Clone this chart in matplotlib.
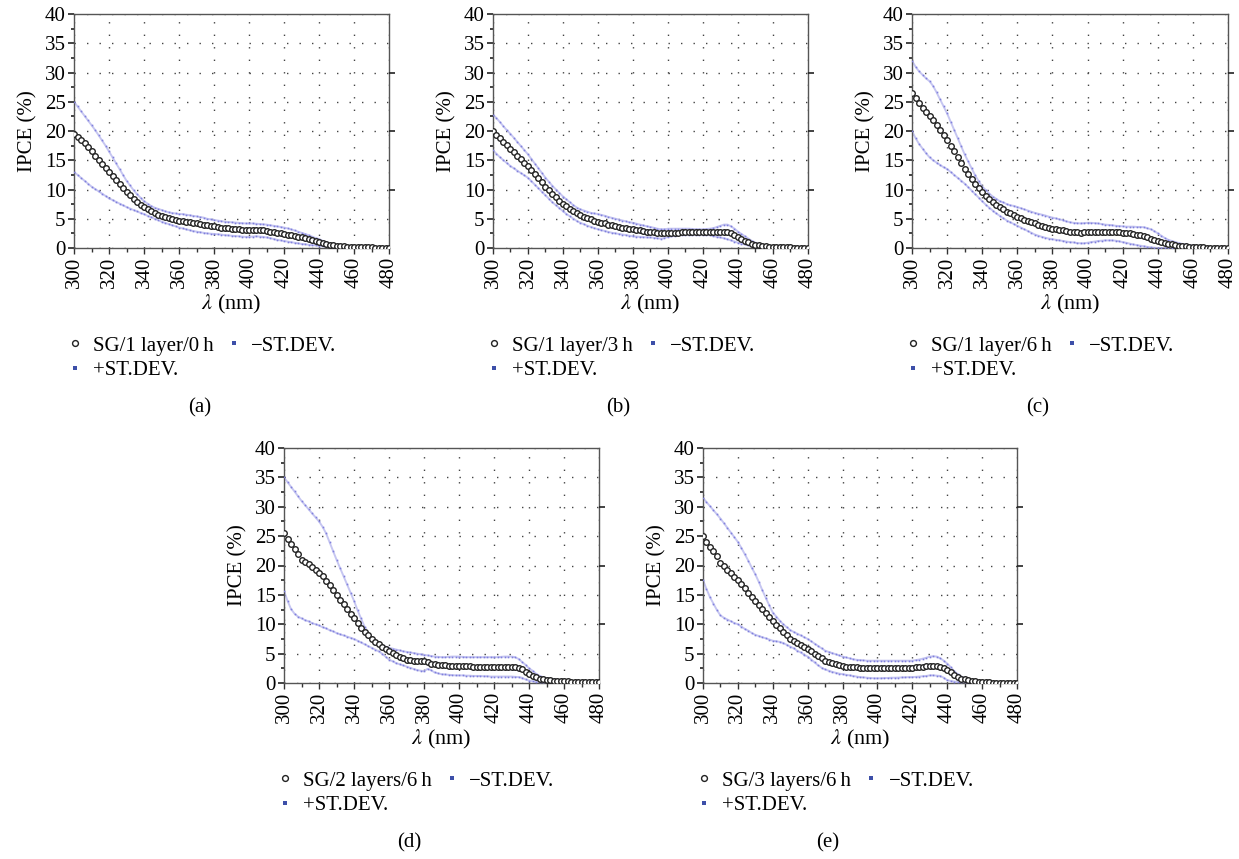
import numpy as np
import matplotlib
matplotlib.use("Agg")
import matplotlib.pyplot as plt
from matplotlib.lines import Line2D
from matplotlib.ticker import MultipleLocator

plt.rcParams['font.family'] = ['Liberation Serif', 'DejaVu Serif']
plt.rcParams['mathtext.fontset'] = 'stix'

# wavelength grid (nm), every 2 nm from 300 to 480
wavelength = list(range(300, 481, 2))

# ---------------- (a) SG/1 layer/0 h ----------------
a_mean = [19.5, 19.0, 18.5, 18.0, 17.2, 16.5, 15.8, 15.1, 14.4, 13.7,
          13.0, 12.3, 11.6, 10.9, 10.2, 9.5, 9.0, 8.4, 7.9, 7.4,
          7.0, 6.6, 6.3, 6.0, 5.7, 5.5, 5.3, 5.1, 4.9, 4.8,
          4.7, 4.6, 4.5, 4.4, 4.3, 4.2, 4.1, 4.0, 3.9, 3.8,
          3.7, 3.6, 3.5, 3.4, 3.35, 3.3, 3.25, 3.2, 3.15, 3.1,
          3.1, 3.1, 3.1, 3.05, 3.0, 2.9, 2.8, 2.7, 2.6, 2.5,
          2.4, 2.3, 2.2, 2.05, 1.9, 1.8, 1.65, 1.5, 1.35, 1.2,
          1.0, 0.85, 0.7, 0.55, 0.45, 0.4, 0.35, 0.3, 0.25, 0.22,
          0.2, 0.18, 0.15, 0.12, 0.1, 0.1, 0.08, 0.07, 0.06, 0.05, 0.05]
a_plus = [25.0, 24.2, 23.4, 22.6, 21.8, 21.0, 20.2, 19.3, 18.4, 17.5,
          16.5, 15.5, 14.5, 13.5, 12.5, 11.5, 10.7, 9.9, 9.2, 8.6,
          8.0, 7.6, 7.2, 6.9, 6.7, 6.5, 6.3, 6.1, 6.0, 5.9,
          5.8, 5.8, 5.7, 5.6, 5.5, 5.4, 5.3, 5.2, 5.0, 4.9,
          4.8, 4.7, 4.6, 4.5, 4.45, 4.4, 4.35, 4.3, 4.25, 4.2,
          4.2, 4.2, 4.15, 4.1, 4.05, 4.0, 3.9, 3.8, 3.7, 3.6,
          3.5, 3.35, 3.2, 3.0, 2.8, 2.6, 2.4, 2.2, 1.95, 1.7,
          1.5, 1.25, 1.0, 0.8, 0.6, 0.5, 0.42, 0.35, 0.3, 0.27,
          0.25, 0.2, 0.17, 0.14, 0.12, 0.1, 0.09, 0.08, 0.07, 0.06, 0.05]
a_minus = [13.0, 12.5, 12.0, 11.5, 11.0, 10.5, 10.1, 9.7, 9.3, 8.9,
           8.5, 8.2, 7.9, 7.6, 7.3, 7.0, 6.75, 6.5, 6.25, 6.0,
           5.8, 5.5, 5.3, 5.0, 4.8, 4.5, 4.3, 4.1, 3.9, 3.7,
           3.5, 3.35, 3.2, 3.05, 2.9, 2.8, 2.7, 2.6, 2.5, 2.45,
           2.4, 2.35, 2.3, 2.2, 2.15, 2.1, 2.05, 2.0, 1.95, 1.9,
           1.9, 1.95, 2.0, 1.95, 1.9, 1.8, 1.7, 1.55, 1.4, 1.3,
           1.2, 1.1, 1.0, 0.9, 0.8, 0.7, 0.65, 0.55, 0.5, 0.45,
           0.4, 0.35, 0.3, 0.25, 0.22, 0.2, 0.18, 0.15, 0.12, 0.11,
           0.1, 0.09, 0.08, 0.07, 0.06, 0.06, 0.05, 0.05, 0.05, 0.05, 0.05]

# ---------------- (b) SG/1 layer/3 h ----------------
b_mean = [20.0, 19.4, 18.8, 18.2, 17.6, 17.0, 16.4, 15.8, 15.2, 14.6,
          14.0, 13.3, 12.6, 11.9, 11.2, 10.5, 9.9, 9.3, 8.7, 8.1,
          7.5, 7.1, 6.7, 6.3, 5.9, 5.6, 5.35, 5.1, 4.9, 4.7,
          4.5, 4.35, 4.2, 4.0, 3.85, 3.7, 3.6, 3.5, 3.4, 3.3,
          3.2, 3.1, 3.0, 2.9, 2.8, 2.7, 2.65, 2.6, 2.55, 2.5,
          2.5, 2.55, 2.6, 2.62, 2.65, 2.7, 2.72, 2.75, 2.77, 2.8,
          2.8, 2.8, 2.8, 2.8, 2.8, 2.8, 2.8, 2.7, 2.5, 2.2,
          1.8, 1.5, 1.2, 0.95, 0.75, 0.55, 0.45, 0.38, 0.3, 0.25,
          0.2, 0.17, 0.15, 0.13, 0.11, 0.1, 0.08, 0.07, 0.06, 0.05, 0.05]
b_plus = [22.8, 22.2, 21.5, 20.8, 20.1, 19.5, 18.8, 18.1, 17.4, 16.7,
          16.0, 15.2, 14.4, 13.6, 12.8, 12.0, 11.3, 10.6, 10.0, 9.4,
          8.8, 8.3, 7.8, 7.3, 6.9, 6.6, 6.4, 6.2, 6.0, 5.9,
          5.8, 5.65, 5.5, 5.3, 5.15, 5.0, 4.85, 4.7, 4.55, 4.4,
          4.3, 4.15, 4.0, 3.85, 3.7, 3.6, 3.45, 3.3, 3.2, 3.2,
          3.3, 3.3, 3.3, 3.3, 3.3, 3.3, 3.3, 3.25, 3.2, 3.2,
          3.2, 3.25, 3.3, 3.4, 3.6, 3.8, 4.0, 4.0, 3.7, 3.3,
          2.8, 2.4, 2.0, 1.6, 1.2, 0.9, 0.7, 0.55, 0.45, 0.35,
          0.3, 0.25, 0.2, 0.17, 0.13, 0.1, 0.09, 0.08, 0.06, 0.05, 0.05]
b_minus = [16.7, 16.1, 15.5, 15.0, 14.5, 14.0, 13.6, 13.2, 12.8, 12.4,
           12.0, 11.4, 10.8, 10.2, 9.6, 9.0, 8.4, 7.8, 7.3, 6.8,
           6.3, 5.8, 5.4, 5.0, 4.6, 4.3, 4.05, 3.8, 3.6, 3.4,
           3.2, 3.05, 2.9, 2.75, 2.6, 2.5, 2.4, 2.3, 2.2, 2.1,
           2.0, 1.95, 1.9, 1.85, 1.8, 1.8, 1.75, 1.65, 1.6, 1.7,
           1.9, 2.0, 2.1, 2.2, 2.25, 2.3, 2.3, 2.3, 2.3, 2.3,
           2.3, 2.25, 2.2, 2.05, 1.9, 1.8, 1.65, 1.5, 1.3, 1.1,
           0.9, 0.75, 0.6, 0.45, 0.35, 0.3, 0.25, 0.2, 0.18, 0.16,
           0.15, 0.13, 0.11, 0.1, 0.08, 0.07, 0.06, 0.06, 0.05, 0.05, 0.05]

# ---------------- (c) SG/1 layer/6 h ----------------
c_mean = [26.5, 25.6, 24.8, 24.0, 23.2, 22.5, 21.8, 21.0, 20.2, 19.4,
          18.5, 17.5, 16.5, 15.5, 14.5, 13.5, 12.6, 11.8, 11.0, 10.2,
          9.5, 8.9, 8.4, 7.9, 7.4, 7.0, 6.6, 6.2, 5.9, 5.6,
          5.3, 5.1, 4.8, 4.6, 4.4, 4.2, 4.0, 3.8, 3.6, 3.45,
          3.3, 3.2, 3.1, 3.0, 2.9, 2.8, 2.7, 2.65, 2.6, 2.65,
          2.7, 2.72, 2.75, 2.78, 2.8, 2.8, 2.8, 2.75, 2.7, 2.65,
          2.6, 2.55, 2.5, 2.4, 2.3, 2.2, 2.0, 1.8, 1.6, 1.4,
          1.2, 1.05, 0.9, 0.75, 0.6, 0.5, 0.42, 0.35, 0.3, 0.25,
          0.2, 0.16, 0.12, 0.09, 0.07, 0.05, 0.04, 0.03, 0.03, 0.02, 0.02]
c_plus = [32.0, 31.0, 30.2, 29.6, 29.0, 28.5, 27.7, 26.6, 25.4, 24.2,
          23.0, 21.6, 20.2, 18.8, 17.4, 16.0, 14.8, 13.6, 12.4, 11.4,
          10.5, 9.9, 9.3, 8.8, 8.4, 8.0, 7.8, 7.5, 7.3, 7.2,
          7.0, 6.8, 6.6, 6.4, 6.2, 6.0, 5.85, 5.7, 5.55, 5.35,
          5.2, 5.05, 4.9, 4.75, 4.55, 4.4, 4.3, 4.25, 4.2, 4.25,
          4.3, 4.3, 4.25, 4.2, 4.1, 4.0, 3.95, 3.9, 3.8, 3.75,
          3.7, 3.65, 3.65, 3.65, 3.6, 3.6, 3.55, 3.4, 3.2, 2.9,
          2.5, 2.1, 1.7, 1.4, 1.2, 1.0, 0.85, 0.7, 0.6, 0.5,
          0.4, 0.32, 0.25, 0.2, 0.15, 0.1, 0.08, 0.06, 0.04, 0.03, 0.02]
c_minus = [20.0, 18.8, 17.8, 17.0, 16.2, 15.5, 15.0, 14.6, 14.2, 13.8,
           13.5, 13.0, 12.5, 12.0, 11.5, 11.0, 10.4, 9.8, 9.2, 8.6,
           8.0, 7.4, 6.9, 6.4, 5.9, 5.5, 5.1, 4.7, 4.4, 4.1,
           3.8, 3.5, 3.2, 2.9, 2.6, 2.3, 2.1, 1.9, 1.75, 1.6,
           1.5, 1.4, 1.3, 1.2, 1.1, 1.0, 0.95, 0.85, 0.8, 0.8,
           0.9, 1.0, 1.1, 1.2, 1.25, 1.3, 1.3, 1.3, 1.25, 1.15,
           1.0, 0.9, 0.75, 0.6, 0.5, 0.4, 0.3, 0.2, 0.1, 0.05,
           0.0, 0.0, 0.0, 0.0, 0.0, 0.0, 0.0, 0.0, 0.0, 0.0,
           0.0, 0.0, 0.0, 0.0, 0.0, 0.0, 0.0, 0.0, 0.0, 0.0, 0.0]

# ---------------- (d) SG/2 layers/6 h ----------------
d_mean = [25.5, 24.5, 23.6, 22.8, 22.0, 21.0, 20.6, 20.2, 19.8, 19.3,
          18.8, 18.2, 17.4, 16.6, 15.8, 15.0, 14.2, 13.4, 12.6, 11.8,
          11.0, 10.2, 9.4, 8.7, 8.1, 7.5, 7.0, 6.6, 6.2, 5.8,
          5.5, 5.1, 4.8, 4.5, 4.2, 4.0, 3.9, 3.8, 3.7, 3.7,
          3.7, 3.5, 3.3, 3.2, 3.1, 3.0, 3.0, 2.95, 2.9, 2.9,
          2.9, 2.9, 2.85, 2.85, 2.8, 2.8, 2.8, 2.8, 2.8, 2.8,
          2.8, 2.8, 2.8, 2.8, 2.8, 2.8, 2.75, 2.6, 2.3, 1.9,
          1.5, 1.2, 0.95, 0.75, 0.6, 0.5, 0.45, 0.4, 0.35, 0.32,
          0.3, 0.26, 0.22, 0.19, 0.17, 0.15, 0.13, 0.12, 0.11, 0.1, 0.1]
d_plus = [35.0, 34.2, 33.4, 32.6, 31.8, 31.0, 30.3, 29.6, 28.9, 28.2,
          27.5, 26.6, 25.5, 24.0, 22.5, 21.0, 19.6, 18.2, 16.8, 15.4,
          14.0, 12.4, 11.0, 9.6, 8.4, 7.5, 7.1, 6.7, 6.4, 6.2,
          6.0, 5.85, 5.7, 5.55, 5.4, 5.3, 5.2, 5.1, 5.0, 4.9,
          4.8, 4.7, 4.6, 4.5, 4.45, 4.4, 4.4, 4.45, 4.5, 4.5,
          4.5, 4.45, 4.4, 4.4, 4.4, 4.4, 4.4, 4.4, 4.4, 4.4,
          4.4, 4.4, 4.45, 4.5, 4.5, 4.5, 4.4, 4.1, 3.6, 3.1,
          2.5, 2.1, 1.6, 1.2, 1.0, 0.8, 0.7, 0.6, 0.5, 0.45,
          0.4, 0.35, 0.3, 0.27, 0.23, 0.2, 0.17, 0.14, 0.12, 0.1, 0.1]
d_minus = [15.7, 14.0, 12.6, 11.8, 11.3, 11.0, 10.7, 10.5, 10.2, 10.0,
           9.8, 9.5, 9.3, 9.0, 8.8, 8.5, 8.3, 8.1, 7.9, 7.7,
           7.5, 7.2, 6.9, 6.6, 6.3, 6.0, 5.7, 5.4, 5.0, 4.5,
           4.0, 3.7, 3.4, 3.2, 3.0, 2.8, 2.6, 2.4, 2.2, 2.1,
           2.0, 2.4, 2.2, 1.8, 1.65, 1.5, 1.45, 1.4, 1.35, 1.3,
           1.3, 1.3, 1.25, 1.25, 1.2, 1.2, 1.2, 1.15, 1.15, 1.1,
           1.1, 1.1, 1.1, 1.1, 1.1, 1.1, 1.05, 1.0, 0.9, 0.6,
           0.4, 0.3, 0.2, 0.15, 0.12, 0.1, 0.1, 0.1, 0.1, 0.1,
           0.1, 0.08, 0.07, 0.06, 0.06, 0.05, 0.05, 0.05, 0.05, 0.05, 0.05]

# ---------------- (e) SG/3 layers/6 h ----------------
e_mean = [25.0, 24.0, 23.2, 22.5, 21.6, 20.5, 19.9, 19.3, 18.7, 18.1,
          17.5, 16.8, 16.1, 15.4, 14.7, 14.0, 13.3, 12.6, 11.9, 11.2,
          10.5, 9.9, 9.3, 8.7, 8.1, 7.5, 7.1, 6.8, 6.4, 6.1,
          5.8, 5.4, 5.0, 4.6, 4.2, 3.8, 3.6, 3.4, 3.2, 3.05,
          2.9, 2.8, 2.75, 2.7, 2.65, 2.6, 2.58, 2.55, 2.52, 2.5,
          2.5, 2.5, 2.5, 2.5, 2.5, 2.5, 2.5, 2.5, 2.55, 2.55,
          2.6, 2.65, 2.7, 2.75, 2.85, 2.9, 2.95, 2.9, 2.8, 2.5,
          2.2, 1.8, 1.3, 0.95, 0.75, 0.6, 0.45, 0.35, 0.28, 0.24,
          0.2, 0.15, 0.11, 0.08, 0.06, 0.05, 0.04, 0.03, 0.03, 0.02, 0.02]
e_plus = [31.5, 30.8, 30.1, 29.4, 28.7, 28.0, 27.2, 26.4, 25.6, 24.8,
          24.0, 23.0, 21.9, 20.8, 19.6, 18.5, 17.2, 15.8, 14.5, 13.2,
          12.0, 11.3, 10.6, 10.0, 9.5, 9.0, 8.7, 8.4, 8.1, 7.8,
          7.5, 7.1, 6.7, 6.3, 5.9, 5.5, 5.3, 5.1, 4.9, 4.7,
          4.5, 4.35, 4.2, 4.05, 3.95, 3.9, 3.85, 3.8, 3.8, 3.8,
          3.8, 3.8, 3.8, 3.8, 3.8, 3.8, 3.8, 3.8, 3.8, 3.8,
          3.8, 3.9, 4.0, 4.15, 4.3, 4.5, 4.55, 4.5, 4.2, 3.8,
          3.3, 2.7, 2.0, 1.5, 1.1, 0.8, 0.65, 0.5, 0.4, 0.35,
          0.3, 0.24, 0.18, 0.14, 0.12, 0.1, 0.07, 0.05, 0.03, 0.02, 0.02]
e_minus = [17.5, 16.0, 14.6, 13.5, 12.4, 11.5, 11.1, 10.8, 10.5, 10.2,
           10.0, 9.6, 9.2, 8.9, 8.5, 8.2, 8.0, 7.8, 7.6, 7.4,
           7.2, 7.1, 7.0, 6.8, 6.5, 6.2, 5.9, 5.5, 5.2, 4.8,
           4.5, 4.0, 3.5, 3.0, 2.6, 2.3, 2.1, 1.9, 1.75, 1.6,
           1.5, 1.4, 1.3, 1.2, 1.1, 1.0, 0.95, 0.9, 0.85, 0.8,
           0.8, 0.8, 0.85, 0.85, 0.9, 0.9, 0.92, 0.95, 0.97, 1.0,
           1.0, 1.05, 1.1, 1.15, 1.2, 1.3, 1.3, 1.25, 1.2, 0.9,
           0.5, 0.35, 0.25, 0.18, 0.12, 0.1, 0.08, 0.07, 0.06, 0.05,
           0.05, 0.04, 0.03, 0.02, 0.01, 0.0, 0.0, 0.0, 0.0, 0.0, 0.0]

labels = ["SG/1 layer/0\u2009h", "SG/1 layer/3\u2009h", "SG/1 layer/6\u2009h",
          "SG/2 layers/6\u2009h", "SG/3 layers/6\u2009h"]
captions = ["(a)", "(b)", "(c)", "(d)", "(e)"]
means = [a_mean, b_mean, c_mean, d_mean, e_mean]
pluses = [a_plus, b_plus, c_plus, d_plus, e_plus]
minuses = [a_minus, b_minus, c_minus, d_minus, e_minus]
xticks = [300, 320, 340, 360, 380, 400, 420, 440, 460, 480]
yticks = [0, 5, 10, 15, 20, 25, 30, 35, 40]

W, H = 1239, 859
fig = plt.figure(figsize=(W / 100, H / 100), dpi=100)

# axes boxes in pixels: left, top, right, bottom
boxes = [(74, 14, 389, 248), (493, 14, 808, 248), (912, 14, 1228, 248),
         (284, 448, 599, 683), (703, 448, 1017, 683)]

FS = 15
sd_line = '#b8b8ee'
sd_dot = '#8080dc'
leg_sd = '#3d4fa8'

for i, (l, t, r, b) in enumerate(boxes):
    ax = fig.add_axes([l / W, 1 - b / H, (r - l) / W, (b - t) / H])
    x = wavelength
    for ser in (pluses[i], minuses[i]):
        ax.plot(x, ser, color=sd_line, lw=1.4, alpha=0.8, zorder=2)
        ax.plot(x, ser, linestyle='none', marker='s', ms=1.2, mew=0,
                color=sd_dot, zorder=3)
    ax.plot(x, means[i], linestyle='none', marker='o', ms=4.0, mfc='white',
            mec='#222222', mew=1.0, zorder=4)
    ax.set_xlim(300, 480)
    ax.set_ylim(0, 40)
    ax.set_xticks(xticks)
    ax.set_yticks(yticks)
    ax.xaxis.set_minor_locator(MultipleLocator(10))
    ax.yaxis.set_minor_locator(MultipleLocator(2.5))
    ax.tick_params(axis='x', which='both', rotation=90, labelsize=FS,
                   direction='out', length=4, width=1, color='#333333', pad=2)
    ax.tick_params(axis='x', which='minor', length=3)
    ax.tick_params(axis='y', which='both', labelsize=FS, direction='out',
                   length=4, width=1.2, color='#222222', pad=2)
    ax.tick_params(axis='y', which='minor', length=2.5)
    ax.grid(True, which='major', color='#444444', linestyle=(0, (1, 8)),
            lw=1.0)
    for s in ax.spines.values():
        s.set_color('#555555')
        s.set_linewidth(1.0)
    ax2 = ax.twinx()
    ax2.set_ylim(0, 40)
    ax2.set_yticks([10, 20, 30])
    ax2.tick_params(axis='y', labelright=False, direction='out', length=4,
                    width=1.2, color='#222222')
    for s in ax2.spines.values():
        s.set_visible(False)
    ax.set_ylabel("IPCE (%)", fontsize=FS, labelpad=5)
    ax.set_xlabel(r"$\lambda$ (nm)", fontsize=FS + 1, labelpad=4)

    handles = [Line2D([], [], linestyle='none', marker='o', ms=4.2, mfc='white',
                      mec='#222222', mew=1.0),
               Line2D([], [], linestyle='none', marker='s', ms=3.2,
                      color=leg_sd, mew=0),
               Line2D([], [], linestyle='none', marker='s', ms=3.2,
                      color=leg_sd, mew=0)]
    ax.legend(handles, [labels[i], "+ST.DEV.", "\u2212ST.DEV."],
              ncol=2, loc='upper left', frameon=False, fontsize=FS,
              bbox_to_anchor=(-6 / (r - l), -88 / (b - t)),
              handlelength=0.7, handletextpad=0.5, columnspacing=0.6,
              labelspacing=0.25, borderpad=0, borderaxespad=0)

    cx = ((l - 64) + r) / 2
    fig.text(cx / W, 1 - (b + 160) / H, captions[i], ha='center', va='center',
             fontsize=FS)

fig.savefig("out.png", dpi=100)
